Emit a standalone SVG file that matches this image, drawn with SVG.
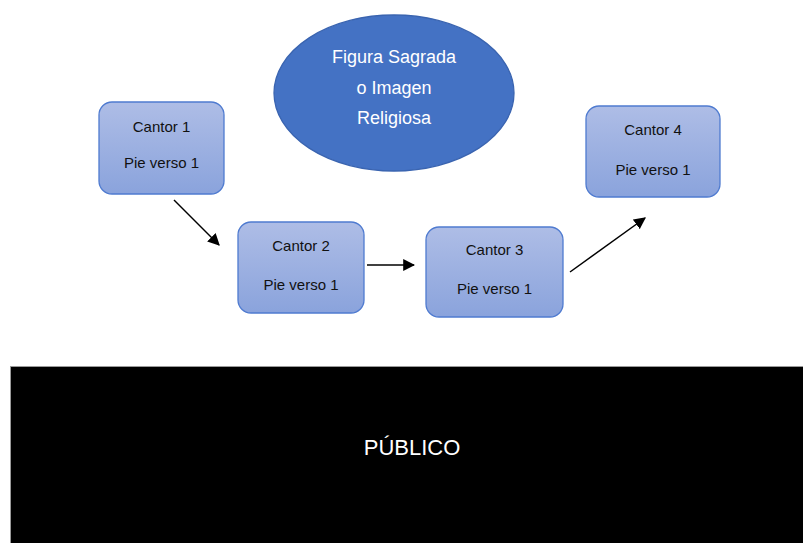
<svg xmlns="http://www.w3.org/2000/svg" width="803" height="543" viewBox="0 0 803 543">
<defs>
<linearGradient id="g" x1="0" y1="0" x2="0" y2="1">
<stop offset="0" stop-color="#aebde6"/>
<stop offset="1" stop-color="#8aa3dc"/>
</linearGradient>
<marker id="ah" viewBox="0 0 10 10" refX="9" refY="5" markerWidth="12" markerHeight="12" markerUnits="userSpaceOnUse" orient="auto">
<path d="M0,0 L10,5 L0,10 z" fill="#000"/>
</marker>
<style>
.box{fill:url(#g);stroke:#4f7bd0;stroke-width:1.3}
.t{font-family:"Liberation Sans",Arial,sans-serif;font-size:15px;fill:#111;text-anchor:middle}
.w{font-family:"Liberation Sans",Arial,sans-serif;fill:#fff;text-anchor:middle}
.c{stroke:#000;stroke-width:1.5;fill:none;marker-end:url(#ah)}
</style>
</defs>
<rect width="803" height="543" fill="#fff"/>
<g id="figura">
<ellipse cx="394" cy="93" rx="120" ry="78" fill="#4472c4" stroke="#3a64b0" stroke-width="1.3"/>
<text class="w" x="394" y="63" font-size="18">Figura Sagrada</text>
<text class="w" x="394" y="94" font-size="18">o Imagen</text>
<text class="w" x="394" y="124" font-size="18">Religiosa</text>
</g>
<g id="cantor1">
<rect class="box" x="99" y="102" width="125" height="92" rx="13"/>
<text class="t" x="161.5" y="132">Cantor 1</text>
<text class="t" x="161.5" y="168">Pie verso 1</text>
</g>
<g id="cantor2">
<rect class="box" x="238" y="222" width="126" height="91" rx="13"/>
<text class="t" x="301" y="251">Cantor 2</text>
<text class="t" x="301" y="290">Pie verso 1</text>
</g>
<g id="cantor3">
<rect class="box" x="426" y="227" width="137" height="90" rx="13"/>
<text class="t" x="494.5" y="255">Cantor 3</text>
<text class="t" x="494.5" y="294">Pie verso 1</text>
</g>
<g id="cantor4">
<rect class="box" x="586" y="106" width="134" height="91" rx="13"/>
<text class="t" x="653" y="135">Cantor 4</text>
<text class="t" x="653" y="175">Pie verso 1</text>
</g>
<g id="connectors">
<line class="c" x1="174" y1="200" x2="219" y2="245"/>
<line class="c" x1="367" y1="265" x2="414" y2="265"/>
<line class="c" x1="570" y1="272" x2="645" y2="218"/>
</g>
<g id="publico">
<rect x="11" y="367" width="792" height="176" fill="#000"/>
<line x1="11" y1="366.5" x2="803" y2="366.5" stroke="#9a9a9a" stroke-width="1"/>
<line x1="10.5" y1="366" x2="10.5" y2="543" stroke="#9a9a9a" stroke-width="1"/>
<text class="w" x="412" y="455" font-size="22">PÚBLICO</text>
</g>
</svg>
